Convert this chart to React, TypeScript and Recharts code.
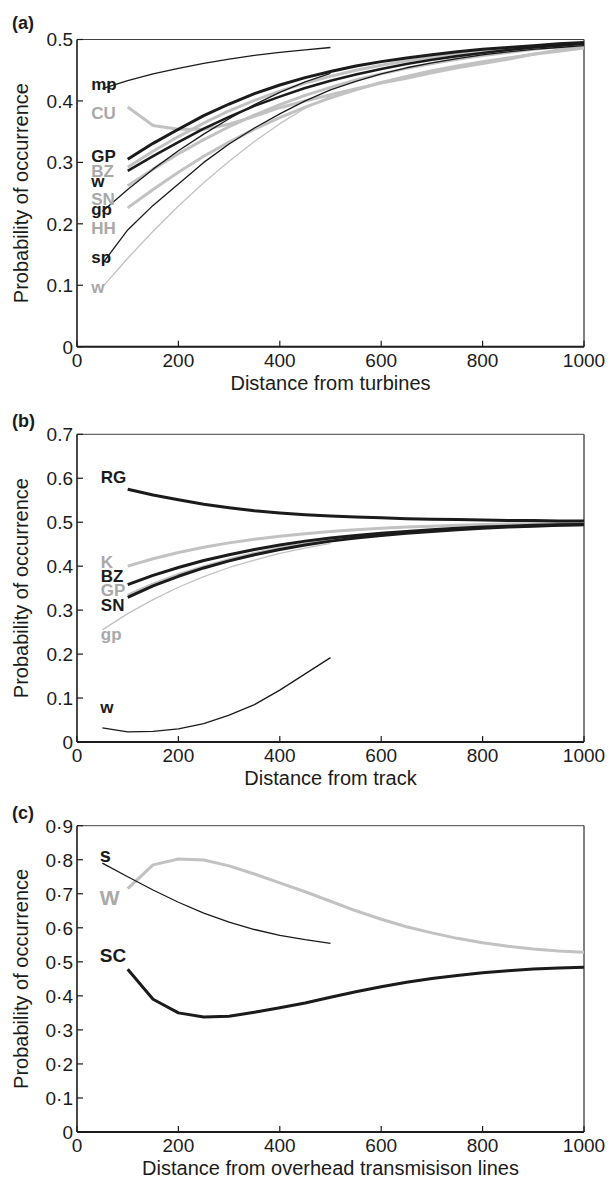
import React from "react";
import { LineChart, Line, XAxis, YAxis, ReferenceLine, ReferenceDot } from "recharts";

const FONT = "'Liberation Sans', Arial, Helvetica, sans-serif";
const INK = "#1b1b1b";
const GREY = "#c2c2c2";
const GREY_TXT = "#a9a9a9";

/* shared x positions (distance, m) */
const DIST = [50, 100, 150, 200, 250, 300, 350, 400, 450, 500, 550, 600, 650, 700, 750, 800, 850, 900, 950, 1000];
const X_TICKS = [0, 200, 400, 600, 800, 1000];

/* ---- (a) distance from turbines ---- */
const A_MP = [0.42, 0.433, 0.444, 0.453, 0.461, 0.468, 0.474, 0.479, 0.483, 0.487, null, null, null, null, null, null, null, null, null, null];
const A_CU = [null, 0.39, 0.36, 0.354, 0.354, 0.362, 0.375, 0.389, 0.4, 0.41, 0.42, 0.429, 0.437, 0.446, 0.454, 0.461, 0.468, 0.476, 0.483, 0.489];
const A_GP = [null, 0.305, 0.331, 0.354, 0.376, 0.395, 0.412, 0.426, 0.438, 0.448, 0.457, 0.464, 0.47, 0.475, 0.48, 0.484, 0.487, 0.49, 0.493, 0.495];
const A_BZ = [null, 0.292, 0.318, 0.342, 0.364, 0.384, 0.401, 0.416, 0.429, 0.44, 0.45, 0.458, 0.465, 0.471, 0.477, 0.481, 0.485, 0.489, 0.492, 0.494];
const A_W_BLACK = [null, 0.286, 0.31, 0.333, 0.355, 0.374, 0.392, 0.407, 0.421, 0.433, 0.443, 0.452, 0.46, 0.467, 0.473, 0.478, 0.483, 0.487, 0.49, 0.493];
const A_GP_SMALL = [0.22, 0.256, 0.289, 0.319, 0.346, 0.371, 0.394, 0.414, 0.431, 0.445, null, null, null, null, null, null, null, null, null, null];
const A_HH = [null, 0.262, 0.289, 0.314, 0.337, 0.358, 0.377, 0.394, 0.409, 0.422, 0.434, 0.444, 0.453, 0.461, 0.468, 0.474, 0.479, 0.484, 0.488, 0.491];
const A_SN = [null, 0.226, 0.256, 0.284, 0.31, 0.333, 0.354, 0.373, 0.39, 0.405, 0.418, 0.43, 0.44, 0.449, 0.457, 0.464, 0.47, 0.476, 0.481, 0.486];
const A_SP = [0.135, 0.19, 0.23, 0.265, 0.3, 0.33, 0.356, 0.379, 0.4, 0.418, 0.432, 0.444, 0.454, 0.462, 0.469, 0.475, 0.48, 0.484, 0.487, 0.49];
const A_W_GREY = [0.097, 0.144, 0.188, 0.229, 0.267, 0.302, 0.334, 0.363, 0.388, 0.408, null, null, null, null, null, null, null, null, null, null];
const A_TICKS = [0, 0.1, 0.2, 0.3, 0.4, 0.5];

/* ---- (b) distance from track ---- */
const B_RG = [null, 0.575, 0.562, 0.551, 0.541, 0.533, 0.526, 0.521, 0.517, 0.514, 0.512, 0.51, 0.508, 0.507, 0.506, 0.505, 0.504, 0.504, 0.503, 0.503];
const B_K = [null, 0.4, 0.417, 0.431, 0.443, 0.453, 0.461, 0.468, 0.474, 0.479, 0.483, 0.486, 0.489, 0.491, 0.493, 0.495, 0.496, 0.497, 0.498, 0.498];
const B_BZ = [null, 0.358, 0.379, 0.397, 0.413, 0.426, 0.438, 0.448, 0.457, 0.464, 0.47, 0.475, 0.479, 0.483, 0.486, 0.489, 0.491, 0.493, 0.494, 0.495];
const B_GP = [null, 0.334, 0.359, 0.381, 0.399, 0.415, 0.429, 0.441, 0.451, 0.459, 0.466, 0.472, 0.477, 0.481, 0.485, 0.488, 0.49, 0.492, 0.493, 0.494];
const B_SN = [null, 0.329, 0.355, 0.377, 0.396, 0.412, 0.426, 0.438, 0.448, 0.457, 0.464, 0.47, 0.475, 0.479, 0.483, 0.486, 0.489, 0.491, 0.493, 0.494];
const B_GP_SMALL = [0.255, 0.292, 0.324, 0.352, 0.376, 0.397, 0.414, 0.429, 0.441, 0.452, null, null, null, null, null, null, null, null, null, null];
const B_W = [0.032, 0.023, 0.024, 0.03, 0.042, 0.061, 0.085, 0.118, 0.155, 0.192, null, null, null, null, null, null, null, null, null, null];
const B_TICKS = [0, 0.1, 0.2, 0.3, 0.4, 0.5, 0.6, 0.7];

/* ---- (c) distance from overhead transmission lines ---- */
const C_S = [0.79, 0.75, 0.711, 0.675, 0.643, 0.617, 0.595, 0.578, 0.565, 0.554, null, null, null, null, null, null, null, null, null, null];
const C_W = [null, 0.715, 0.785, 0.802, 0.799, 0.782, 0.758, 0.732, 0.706, 0.678, 0.65, 0.625, 0.603, 0.585, 0.569, 0.556, 0.546, 0.538, 0.532, 0.528];
const C_SC = [null, 0.478, 0.39, 0.35, 0.338, 0.34, 0.352, 0.365, 0.379, 0.396, 0.412, 0.427, 0.44, 0.451, 0.46, 0.468, 0.474, 0.479, 0.482, 0.484];
const C_TICKS = [0, 0.1, 0.2, 0.3, 0.4, 0.5, 0.6, 0.7, 0.8, 0.9];

type Series = { key: string; values: (number | null)[]; color: string; width: number };
type Tag = { text: string; x: number; y: number; color: string; size: number };

function buildRows(series: Series[]) {
  return DIST.map((d, i) => {
    const row: Record<string, number | null> = { d };
    series.forEach((s) => (row[s.key] = s.values[i]));
    return row;
  });
}

const seriesA: Series[] = [
  { key: "wGrey", values: A_W_GREY, color: GREY, width: 1.3 },
  { key: "SN", values: A_SN, color: GREY, width: 3 },
  { key: "HH", values: A_HH, color: GREY, width: 3 },
  { key: "CU", values: A_CU, color: GREY, width: 3 },
  { key: "BZ", values: A_BZ, color: GREY, width: 3 },
  { key: "sp", values: A_SP, color: INK, width: 1.3 },
  { key: "gp", values: A_GP_SMALL, color: INK, width: 1.3 },
  { key: "wBlack", values: A_W_BLACK, color: INK, width: 2.6 },
  { key: "GP", values: A_GP, color: INK, width: 3 },
  { key: "mp", values: A_MP, color: INK, width: 1.3 },
];
const tagsA: Tag[] = [
  { text: "mp", x: 28, y: 0.417, color: INK, size: 17 },
  { text: "CU", x: 28, y: 0.37, color: GREY_TXT, size: 17 },
  { text: "GP", x: 28, y: 0.301, color: INK, size: 17 },
  { text: "BZ", x: 28, y: 0.277, color: GREY_TXT, size: 17 },
  { text: "w", x: 28, y: 0.26, color: INK, size: 17 },
  { text: "SN", x: 28, y: 0.23, color: GREY_TXT, size: 17 },
  { text: "gp", x: 28, y: 0.2145, color: INK, size: 17 },
  { text: "HH", x: 28, y: 0.183, color: GREY_TXT, size: 17 },
  { text: "sp", x: 28, y: 0.136, color: INK, size: 17 },
  { text: "w", x: 28, y: 0.088, color: GREY_TXT, size: 17 },
];

const seriesB: Series[] = [
  { key: "gp", values: B_GP_SMALL, color: GREY, width: 1.3 },
  { key: "K", values: B_K, color: GREY, width: 3 },
  { key: "GP", values: B_GP, color: GREY, width: 3 },
  { key: "SN", values: B_SN, color: INK, width: 3 },
  { key: "BZ", values: B_BZ, color: INK, width: 3 },
  { key: "RG", values: B_RG, color: INK, width: 3 },
  { key: "w", values: B_W, color: INK, width: 1.3 },
];
const tagsB: Tag[] = [
  { text: "RG", x: 47, y: 0.59, color: INK, size: 17 },
  { text: "K", x: 47, y: 0.395, color: GREY_TXT, size: 17 },
  { text: "BZ", x: 47, y: 0.363, color: INK, size: 17 },
  { text: "GP", x: 47, y: 0.333, color: GREY_TXT, size: 17 },
  { text: "SN", x: 47, y: 0.297, color: INK, size: 17 },
  { text: "gp", x: 47, y: 0.232, color: GREY_TXT, size: 17 },
  { text: "w", x: 46, y: 0.067, color: INK, size: 17 },
];

const seriesC: Series[] = [
  { key: "W", values: C_W, color: GREY, width: 3 },
  { key: "s", values: C_S, color: INK, width: 1.3 },
  { key: "SC", values: C_SC, color: INK, width: 3 },
];
const tagsC: Tag[] = [
  { text: "s", x: 45, y: 0.794, color: INK, size: 20 },
  { text: "W", x: 45, y: 0.667, color: GREY_TXT, size: 21 },
  { text: "SC", x: 45, y: 0.5, color: INK, size: 19 },
];

const dotDecimal = (v: number) => (v === 0 ? "0" : String(v));
const midDot = (v: number) => (v === 0 ? "0" : String(v).replace(".", "·"));

function XTick(props: any) {
  const { x, y, payload } = props;
  return (
    <g>
      <line x1={x} x2={x} y1={y - 4} y2={y - 10} stroke={INK} strokeWidth={1.2} />
      <text x={x} y={y + 16} textAnchor="middle" fontSize={19} fontFamily={FONT} fill={INK}>
        {payload.value}
      </text>
    </g>
  );
}

function makeYTick(fmt: (v: number) => string) {
  return function YTick(props: any) {
    const { x, y, payload } = props;
    return (
      <g>
        <line x1={x + 4} x2={x + 10} y1={y} y2={y} stroke={INK} strokeWidth={1.2} />
        <text x={x} y={y + 6.8} textAnchor="end" fontSize={19} fontFamily={FONT} fill={INK}>
          {fmt(payload.value)}
        </text>
      </g>
    );
  };
}

function Panel({
  top,
  height,
  mTop,
  axisH,
  yMax,
  yTicks,
  fmt,
  series,
  tags,
  xTitle,
  letter,
  letterY,
}: {
  top: number;
  height: number;
  mTop: number;
  axisH: number;
  yMax: number;
  yTicks: number[];
  fmt: (v: number) => string;
  series: Series[];
  tags: Tag[];
  xTitle: string;
  letter: string;
  letterY: number;
}) {
  const rows = buildRows(series);
  const YTick = makeYTick(fmt);
  return (
    <div style={{ position: "absolute", left: 0, top, width: 610, height }}>
      <div
        style={{
          position: "absolute",
          left: 12,
          top: letterY,
          fontFamily: FONT,
          fontWeight: "bold",
          fontSize: 18,
          lineHeight: "18px",
          color: INK,
        }}
      >
        {letter}
      </div>
      <LineChart width={610} height={height} data={rows} margin={{ top: mTop, right: 26, bottom: 0, left: 0 }}>
        <XAxis
          dataKey="d"
          type="number"
          domain={[0, 1000]}
          ticks={X_TICKS}
          interval={0}
          tickSize={0}
          tickMargin={4}
          tick={<XTick />}
          height={axisH}
          axisLine={{ stroke: INK, strokeWidth: 2 }}
          label={(p: any) => {
            const vb = p.viewBox || {};
            return (
              <text x={vb.x + vb.width / 2} y={vb.y + 43} textAnchor="middle" fontSize={20} fontFamily={FONT} fill={INK}>
                {xTitle}
              </text>
            );
          }}
        />
        <YAxis
          type="number"
          domain={[0, yMax]}
          ticks={yTicks}
          interval={0}
          tickSize={0}
          tickMargin={4}
          tick={<YTick />}
          width={77}
          allowDataOverflow
          axisLine={{ stroke: INK, strokeWidth: 1.6 }}
          label={(p: any) => {
            const vb = p.viewBox || {};
            const cx = vb.x + 28;
            const cy = vb.y + vb.height / 2;
            return (
              <text
                x={cx}
                y={cy}
                transform={`rotate(-90 ${cx} ${cy})`}
                textAnchor="middle"
                fontSize={20}
                fontFamily={FONT}
                fill={INK}
              >
                Probability of occurrence
              </text>
            );
          }}
        />
        <ReferenceLine y={yMax} stroke="#444" strokeWidth={1} />
        <ReferenceLine x={1000} stroke="#555" strokeWidth={1.5} />
        {series.map((s) => (
          <Line
            key={s.key}
            dataKey={s.key}
            type="linear"
            stroke={s.color}
            strokeWidth={s.width}
            dot={false}
            activeDot={false}
            isAnimationActive={false}
            strokeLinejoin="round"
          />
        ))}
        {tags.map((t, i) => (
          <ReferenceDot
            key={i}
            x={t.x}
            y={t.y}
            r={0}
            fill="none"
            stroke="none"
            label={(p: any) => {
              const vb = p.viewBox || {};
              return (
                <text x={vb.x} y={vb.y} fontSize={t.size} fontWeight="bold" fontFamily={FONT} fill={t.color}>
                  {t.text}
                </text>
              );
            }}
          />
        ))}
      </LineChart>
    </div>
  );
}

export default function App() {
  return (
    <div style={{ position: "absolute", left: 0, top: 0, width: 610, height: 1186, background: "#fff" }}>
      <Panel
        top={0}
        height={395}
        mTop={39.5}
        axisH={48.3}
        yMax={0.5}
        yTicks={A_TICKS}
        fmt={dotDecimal}
        series={seriesA}
        tags={tagsA}
        xTitle="Distance from turbines"
        letter="(a)"
        letterY={14}
      />
      <Panel
        top={395}
        height={395}
        mTop={39.3}
        axisH={48}
        yMax={0.7}
        yTicks={B_TICKS}
        fmt={dotDecimal}
        series={seriesB}
        tags={tagsB}
        xTitle="Distance from track"
        letter="(b)"
        letterY={17}
      />
      <Panel
        top={790}
        height={396}
        mTop={35.7}
        axisH={54}
        yMax={0.9}
        yTicks={C_TICKS}
        fmt={midDot}
        series={seriesC}
        tags={tagsC}
        xTitle="Distance from overhead transmisison lines"
        letter="(c)"
        letterY={14}
      />
    </div>
  );
}
